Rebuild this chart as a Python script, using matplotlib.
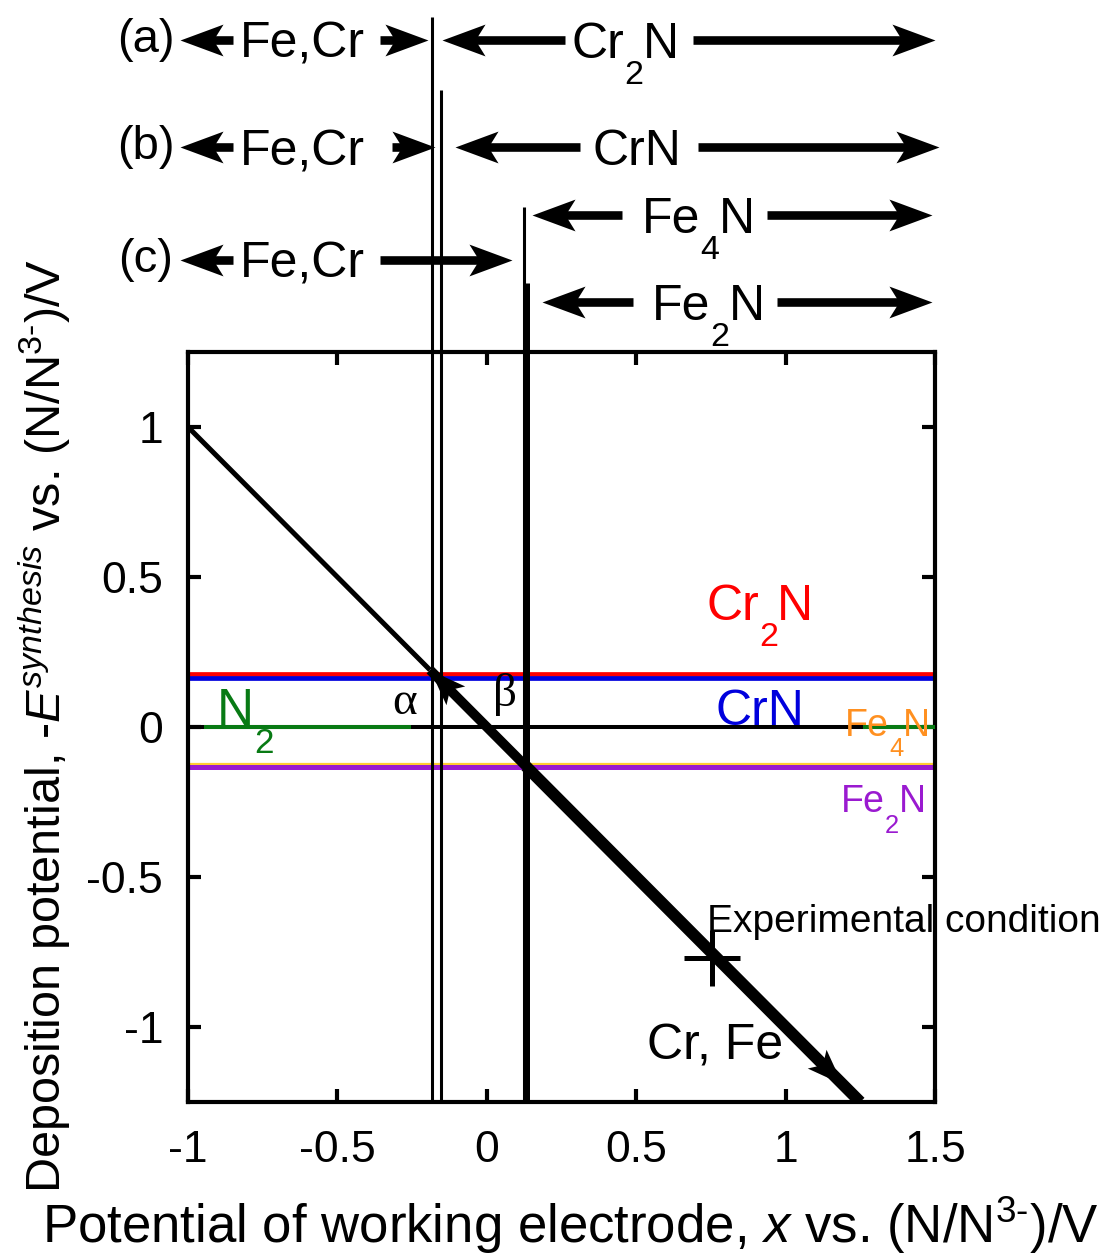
import numpy as np
import matplotlib
matplotlib.use("Agg")
import matplotlib.pyplot as plt
from matplotlib.path import Path

plt.rcParams['font.family'] = ['Liberation Sans', 'DejaVu Sans']
plt.rcParams['mathtext.fontset'] = 'custom'
plt.rcParams['mathtext.rm'] = 'Liberation Sans'
plt.rcParams['mathtext.it'] = 'Liberation Sans:italic'
plt.rcParams['axes.unicode_minus'] = False

# ticks
xticks = [-1, -0.5, 0, 0.5, 1, 1.5]
xtick_labels = ['-1', '-0.5', '0', '0.5', '1', '1.5']
yticks = [-1, -0.5, 0, 0.5, 1]
ytick_labels = ['-1', '-0.5', '0', '0.5', '1']

# equilibrium potentials (horizontal lines)
level_names = ['Cr2N', 'CrN', 'N2', 'Fe4N', 'Fe2N']
level_values = [0.177, 0.163, 0.0, -0.122, -0.134]
level_colors = ['#ff0000', '#0000dd', '#000000', '#ffcc33', '#9a1ad0']
level_widths = [3.4, 3.4, 2.9, 1.6, 3.6]
n2_green_x = [(-0.946, -0.255), (1.259, 1.5)]

# deposition path  -E = -x
path_x = [-1.0, -0.19, 0.13, 1.25]
path_widths = [3.6, 7.0, 8.5]
arrow_tips = [(-0.19, 0.19), (1.19, -1.19)]

# phase boundaries (vertical lines)
bound_x = [-0.182, -0.153, 0.1256, 0.133]
bound_top = [2.368, 2.123, 1.733, 1.48]
bound_w = [2.2, 2.2, 2.2, 3.6]

# stability ranges above the plot
row_labels = ['(a)', '(b)', '(c)']
row_label_y = [2.29, 1.933, 1.557]
span_y = [2.29, 2.29, 1.933, 1.933, 1.557, 1.707, 1.417]
span_head_l = [-1.027, -0.150, -1.027, -0.106, -1.027, 0.151, 0.185]
span_tail_l = [-0.849, 0.262, -0.849, 0.312, -0.849, 0.451, 0.489]
span_tail_r = [-0.357, 0.690, -0.317, 0.707, -0.357, 0.937, 0.970]
span_head_r = [-0.197, 1.500, -0.173, 1.513, 0.084, 1.490, 1.490]
span_text = [[('Fe,Cr', 0)], [('Cr', 0), ('2', 1), ('N', 0)], [('Fe,Cr', 0)],
             [('CrN', 0)], [('Fe,Cr', 0)], [('Fe', 0), ('4', 1), ('N', 0)],
             [('Fe', 0), ('2', 1), ('N', 0)]]
span_text_x = [-0.826, 0.285, -0.826, 0.355, -0.826, 0.519, 0.553]

exp_x, exp_y = 0.753, -0.771

fig = plt.figure(figsize=(11.12, 12.57), dpi=100)
ax = fig.add_axes([188 / 1112, 1 - 1102 / 1257, (935 - 188) / 1112, 750 / 1257])
ax.set_xlim(-1, 1.5)
ax.set_ylim(-1.25, 1.25)


def head_marker(angle_deg):
    v = np.array([[0, 0], [-1, 0.37], [-0.77, 0], [-1, -0.37], [0, 0]])
    a = np.radians(angle_deg)
    rot = np.array([[np.cos(a), -np.sin(a)], [np.sin(a), np.cos(a)]])
    v = v @ rot.T
    codes = [Path.MOVETO, Path.LINETO, Path.LINETO, Path.LINETO, Path.CLOSEPOLY]
    return Path(v, codes)


def formula(x, y, parts, size, color='black', zorder=6):
    # chemical formula with big, low subscripts like the original figure
    base = ax.text(x, y, parts[0][0], fontsize=size, color=color, ha='left',
                   va='baseline', clip_on=False, zorder=zorder)
    prev = base
    for s, sub in parts[1:]:
        if sub:
            off = (0.0, -0.47 * size)
            fs = 0.68 * size
        else:
            off = (-0.01 * size, 0)
            fs = size
        prev = ax.annotate(s, xy=(1, 0), xycoords=(prev, base), xytext=off,
                           textcoords='offset points', fontsize=fs, color=color,
                           ha='left', va='bottom', annotation_clip=False,
                           zorder=zorder)


# horizontal levels
for val, col, lw in zip(level_values, level_colors, level_widths):
    ax.plot([-1, 1.5], [val, val], color=col, lw=lw, solid_capstyle='butt', zorder=2)
for x0, x1 in n2_green_x:
    ax.plot([x0, x1], [0, 0], color='#087a14', lw=2.9, solid_capstyle='butt', zorder=3)

# vertical boundaries
for bx, bt, bw in zip(bound_x, bound_top, bound_w):
    ax.plot([bx, bx], [-1.25, bt], color='black', lw=bw, solid_capstyle='butt',
            clip_on=False, zorder=4)

# deposition path
for i in range(3):
    xs = [path_x[i], path_x[i + 1]]
    ax.plot(xs, [-xs[0], -xs[1]], color='black', lw=path_widths[i],
            solid_capstyle='butt', zorder=5)
ax.plot(*arrow_tips[0], marker=head_marker(135), ms=50, color='black', mew=0, zorder=6)
ax.plot(*arrow_tips[1], marker=head_marker(-45), ms=50, color='black', mew=0, zorder=6)

# stability ranges on top
for i in range(len(span_y)):
    y = span_y[i]
    hl, tl, tr, hr = span_head_l[i], span_tail_l[i], span_tail_r[i], span_head_r[i]
    ax.plot([hl + 0.1, max(tl, hl + 0.1)], [y, y], color='black', lw=6.2,
            solid_capstyle='butt', clip_on=False, zorder=5)
    ax.plot([min(tr, hr - 0.1), hr - 0.1], [y, y], color='black', lw=6.2,
            solid_capstyle='butt', clip_on=False, zorder=5)
    ax.plot(hl, y, marker=head_marker(180), ms=62, color='black', mew=0,
            clip_on=False, zorder=6)
    ax.plot(hr, y, marker=head_marker(0), ms=62, color='black', mew=0,
            clip_on=False, zorder=6)
    formula(span_text_x[i], y - 0.06, span_text[i], 36)
for lab, y in zip(row_labels, row_label_y):
    ax.text(-1.141, y, lab, fontsize=34, ha='center', va='center', clip_on=False)

# labels inside
formula(0.734, 0.357, [('Cr', 0), ('2', 1), ('N', 0)], 36, '#ff0000')
formula(0.764, 0.007, [('CrN', 0)], 36, '#0000dd')
formula(-0.904, 0.007, [('N', 0), ('2', 1)], 37, '#087a14')
formula(1.199, -0.029, [('Fe', 0), ('4', 1), ('N', 0)], 27, '#ff9020')
formula(1.185, -0.284, [('Fe', 0), ('2', 1), ('N', 0)], 27, '#9a1ad0')
ax.text(-0.274, 0.08, 'α', family='Liberation Serif', fontsize=34, ha='center', va='center')
ax.text(0.061, 0.107, 'β', family='Liberation Serif', fontsize=34, ha='center', va='center')

ax.plot(exp_x, exp_y, marker='+', ms=41, mew=3.6, color='black', zorder=7)
ax.text(0.736, -0.682, 'Experimental condition', fontsize=28, ha='left', va='baseline',
        clip_on=False, zorder=8)
ax.text(0.535, -1.11, 'Cr, Fe', fontsize=36, ha='left', va='baseline', zorder=4)

# axes styling
for s in ax.spines.values():
    s.set_linewidth(3)
ax.set_xticks(xticks)
ax.set_xticklabels(xtick_labels)
ax.set_yticks(yticks)
ax.set_yticklabels(ytick_labels)
ax.tick_params(direction='in', length=9.5, width=3, top=True, right=True,
               labelsize=32)
ax.tick_params(axis='x', pad=20)
ax.tick_params(axis='y', pad=18)

fig.text(0.5126, 1 - 1225 / 1257,
         r'Potential of working electrode, $x$ vs. (N/N$^{3\text{-}}$)/V',
         fontsize=38, ha='center', va='center')
fig.text(0.0405, 1 - 726 / 1257,
         r'Deposition potential, -$E^{synthesis}$ vs. (N/N$^{3\text{-}}$)/V',
         fontsize=35, ha='center', va='center', rotation=90)

fig.savefig('out.png', dpi=100)
